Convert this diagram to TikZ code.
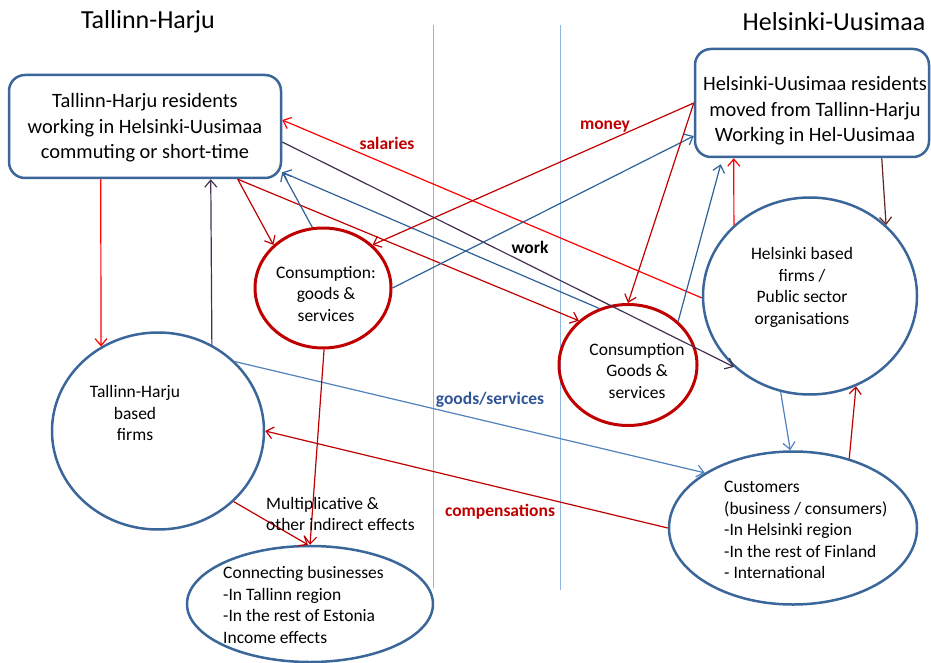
\documentclass[tikz,border=0pt]{standalone}
\usepackage{fontspec}
\setmainfont{Carlito}
\usetikzlibrary{shapes.geometric,arrows.meta}

\definecolor{boxblue}{HTML}{3B6699}
\definecolor{ringred}{HTML}{C00000}
\definecolor{bred}{HTML}{FF0000}
\definecolor{dred}{HTML}{C00000}
\definecolor{dblue}{HTML}{2F5F98}
\definecolor{lblue}{HTML}{4F81BD}
\definecolor{plum}{HTML}{403152}
\definecolor{rust}{HTML}{632523}
\definecolor{sepblue}{HTML}{8EB4E3}
\definecolor{tagblue}{HTML}{2F5597}

\begin{document}
\begin{tikzpicture}[x=1pt,y=-1pt,
	resbox/.style={draw=boxblue, line width=2.5pt, rounded corners=16pt},
	bluering/.style={draw=boxblue, ellipse, line width=2.5pt, inner sep=0pt},
	redring/.style={draw=ringred, ellipse, line width=3pt, inner sep=0pt},
	bigtxt/.style={align=center, inner sep=0pt, font=\fontsize{20.4}{25.5}\selectfont},
	txt/.style={align=center, inner sep=0pt, font=\fontsize{17.5}{21.5}\selectfont},
	flow/.style={-{Straight Barb[length=7pt,width=12pt]}, line width=1.2pt},
	tag/.style={inner sep=0pt, font=\fontsize{17.5}{20}\selectfont\bfseries}
]
	%\draw[help lines] (0,0) grid[step=50] (931,663);
	\useasboundingbox (0,0) rectangle (931,663);
	\draw[sepblue, line width=1pt] (433,25) -- (433,588);
	\draw[sepblue, line width=1pt] (560,25) -- (560,590);

	\node[font=\fontsize{26}{30}\selectfont] (thtitle) at (148,22) {Tallinn-Harju};
	\node[font=\fontsize{26}{30}\selectfont] (hutitle) at (834,22) {Helsinki-Uusimaa};

	\node[resbox, minimum width=272pt, minimum height=103pt] (thres) at (145,126.5) {};
	\node[bigtxt] (threstxt) at (145,128) {Tallinn-Harju residents\\working in Helsinki-Uusimaa\\commuting or short-time};
	\node[resbox, minimum width=234pt, minimum height=108pt] (hures) at (812,103) {};
	\node[bigtxt] (hurestxt) at (815,111) {Helsinki-Uusimaa residents\\moved from Tallinn-Harju\\Working in Hel-Uusimaa};

	\node[redring, minimum width=136pt, minimum height=120pt] (consL) at (323,288) {};
	\node[txt] (consLtxt) at (326,294) {Consumption:\\goods \&\\services};
	\node[redring, minimum width=138pt, minimum height=121pt] (consR) at (628,365) {};
	\node[txt] (consRtxt) at (637,371) {Consumption\\Goods \&\\services};

	\node[bluering, minimum width=212pt, minimum height=197pt] (tfirms) at (158,431) {};
	\node[txt] (tfirmstxt) at (135,413) {Tallinn-Harju\\based\\firms};
	\node[bluering, minimum width=214pt, minimum height=197pt] (hfirms) at (810,296) {};
	\node[txt] (hfirmstxt) at (802,287.5) {Helsinki based\\firms /\\Public sector\\organisations};

	\node[bluering, minimum width=246pt, minimum height=116pt] (conn) at (310,604) {};
	\node[txt, align=left, anchor=west] (conntxt) at (223,605) {Connecting businesses\\-In Tallinn region\\-In the rest of Estonia\\Income effects};
	\node[bluering, minimum width=248pt, minimum height=153pt] (cust) at (793,528) {};
	\node[txt, align=left, anchor=west] (custtxt) at (724,530) {Customers\\(business / consumers)\\-In Helsinki region\\-In the rest of Finland\\- International};

	\draw[flow, bred] ([xshift=93pt]thres.south west) -- (tfirms.124);
	\draw[flow, plum] (tfirms.58) -- ([xshift=203pt]thres.south west);
	\draw[flow, dred] ([xshift=230pt]thres.south west) -- (consL.139);
	\draw[flow, dred] ([xshift=230pt]thres.south west) -- (consR.138);
	\draw[flow, dblue] (consL.100) -- ([yshift=7pt]thres.south east);
	\draw[flow, dblue] (consR.117) -- ([yshift=7pt]thres.south east);
	\draw[flow, plum] ([yshift=-15.5pt]thres.east) -- (hfirms.223);
	\draw[flow, bred] (hfirms.181) -- ([yshift=6.5pt]thres.east);
	\draw[flow, dred] (hures.west) -- (consL.41);
	\draw[flow, dblue] (consL.0) -- ([yshift=-33pt]hures.west);
	\draw[flow, dred] (hures.west) -- (consR.90);
	\draw[flow, dblue] (consR.41) -- ([xshift=27pt,yshift=-6pt]hures.south west);
	\draw[flow, bred] (hfirms.137) -- ([xshift=40pt]hures.south west);
	\draw[flow, rust] ([xshift=188pt]hures.south west) -- (hfirms.43);
	\draw[flow, lblue] (tfirms.42) -- (cust.148);
	\draw[flow, dred] (cust.180) -- (tfirms.0);
	\draw[flow, lblue] (hfirms.253) -- (cust.92);
	\draw[flow, dred] (cust.51) -- (hfirms.297);
	\draw[flow, dred] (consL.271) -- (conn.north);
	\draw[flow, dred] (tfirms.317) -- (conn.92);

	\node[tag, dred] (salaries) at (387,143) {salaries};
	\node[tag, dred] (money) at (605,127) {money};
	\node[tag] (work) at (530,247) {work};
	\node[tag, tagblue] (goods) at (490,400) {goods/services};
	\node[tag, dred] (comp) at (500,512) {compensations};
	\node[txt, align=left, anchor=west] (multi) at (266,514) {Multiplicative \&\\other indirect effects};
\end{tikzpicture}
\end{document}
